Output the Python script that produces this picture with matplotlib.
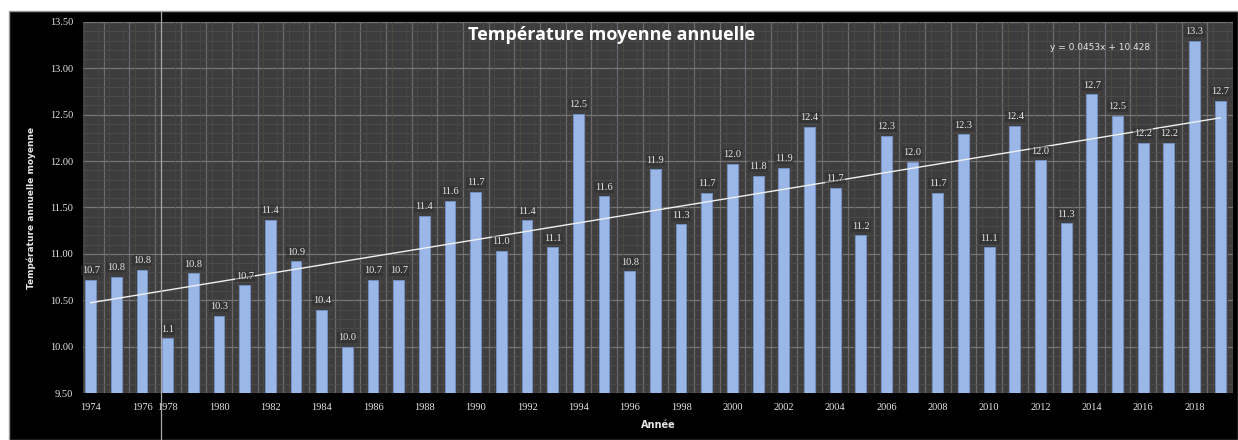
import matplotlib

matplotlib.use("Agg")

import matplotlib.pyplot as plt
import numpy as np
from matplotlib.patches import Rectangle
from matplotlib.ticker import FixedLocator, FormatStrFormatter, MultipleLocator

# données (1977 absent)
years = [1974, 1975, 1976] + list(range(1978, 2020))
temps = [
    10.72, 10.75, 10.83, 10.09, 10.79, 10.33, 10.66, 11.37, 10.92, 10.40,
    10.00, 10.72, 10.72, 11.41, 11.57, 11.67, 11.03, 11.36, 11.07, 12.51,
    11.62, 10.81, 11.91, 11.32, 11.66, 11.97, 11.84, 11.93, 12.37, 11.71,
    11.20, 12.27, 11.99, 11.66, 12.29, 11.07, 12.38, 12.01, 11.33, 12.72,
    12.49, 12.20, 12.20, 13.30, 12.65,
]
bar_labels = [
    "10.7", "10.8", "10.8", "1.1", "10.8", "10.3", "10.7", "11.4", "10.9", "10.4",
    "10.0", "10.7", "10.7", "11.4", "11.6", "11.7", "11.0", "11.4", "11.1", "12.5",
    "11.6", "10.8", "11.9", "11.3", "11.7", "12.0", "11.8", "11.9", "12.4", "11.7",
    "11.2", "12.3", "12.0", "11.7", "12.3", "11.1", "12.4", "12.0", "11.3", "12.7",
    "12.5", "12.2", "12.2", "13.3", "12.7",
]
trend_slope = 0.0453
trend_intercept = 10.428

BG_PLOT = "#3d3d3d"
BAR_COLOR = "#9bb7e8"
TEXT = "#e6e6e6"
SERIF = ["Liberation Serif", "DejaVu Serif"]

fig = plt.figure(figsize=(12.38, 4.40), dpi=100, facecolor="white")

# cadre noir du graphique
fig.add_artist(Rectangle((9 / 1238, 0), 1 - 9 / 1238, 1 - 11 / 440,
                         transform=fig.transFigure, facecolor="black",
                         edgecolor="#9a9a9a", linewidth=1.0, zorder=0))

ax = fig.add_axes([83 / 1238, 1 - 393 / 440, 1150 / 1238, 371 / 440])
ax.set_facecolor(BG_PLOT)

x = np.arange(len(years))
ax.bar(x, temps, width=0.42, bottom=0, color=BAR_COLOR,
       edgecolor="#7393cc", linewidth=0.6, zorder=3)

for xi, yi, lab in zip(x, temps, bar_labels):
    ax.text(xi, yi + 0.05, lab, ha="center", va="bottom", fontsize=7.5,
            color=TEXT, family=SERIF, zorder=5,
            bbox=dict(boxstyle="square,pad=0.1", facecolor="#2c2c2c",
                      edgecolor="none", alpha=0.5))

# courbe de tendance linéaire
ax.plot(x, trend_slope * (x + 1) + trend_intercept, color="#f0f0f0",
        linewidth=1.0, zorder=4)
ax.text(0.928, 0.93, "y = 0.0453x + 10.428", transform=ax.transAxes,
        ha="right", va="center", fontsize=6.5, color=TEXT, zorder=5)

ax.set_xlim(-0.3, len(years) - 0.5)
ax.set_ylim(9.5, 13.5)

ax.yaxis.set_major_locator(MultipleLocator(0.5))
ax.yaxis.set_minor_locator(MultipleLocator(0.1))
ax.yaxis.set_major_formatter(FormatStrFormatter("%.2f"))

tick_pos = [i for i, yr in enumerate(years) if yr % 2 == 0]
ax.set_xticks(tick_pos)
ax.set_xticklabels([str(years[i]) for i in tick_pos])
ax.xaxis.set_minor_locator(FixedLocator(np.arange(len(years)) + 0.5))

ax.grid(True, which="major", axis="y", color="#777777", linewidth=0.9, zorder=1)
ax.grid(True, which="minor", axis="y", color="#4d4d4d", linewidth=0.6, zorder=1)
ax.grid(True, which="minor", axis="x", color="#6a6a6a", linewidth=0.9, zorder=1)
ax.grid(False, which="major", axis="x")
for xi in x:
    ax.axvline(xi - 0.27, color="#524a40", linewidth=0.6, zorder=1)
    ax.axvline(xi + 0.27, color="#504545", linewidth=0.6, zorder=1)
ax.set_axisbelow(True)

# trait vertical clair traversant tout le cadre
ax.axvline(2.72, ymin=-0.127, ymax=1.03, color="#a8a8a8", linewidth=0.9,
           clip_on=False, zorder=6)

for side in ax.spines.values():
    side.set_visible(False)

ax.tick_params(axis="both", which="both", length=0, colors=TEXT, pad=7)
for lab in ax.get_xticklabels() + ax.get_yticklabels():
    lab.set_family(SERIF)
    lab.set_fontsize(7.5)

ax.set_title("Température moyenne annuelle", color="white", fontsize=13,
             fontweight="bold", y=0.93, x=0.46, family="Open Sans")
ax.set_xlabel("Année", color=TEXT, fontsize=7, fontweight="bold", labelpad=6)
ax.set_ylabel("Température annuelle moyenne", color=TEXT, fontsize=6.5,
              fontweight="bold", labelpad=10)

fig.savefig("out.png", dpi=100, facecolor="white")
